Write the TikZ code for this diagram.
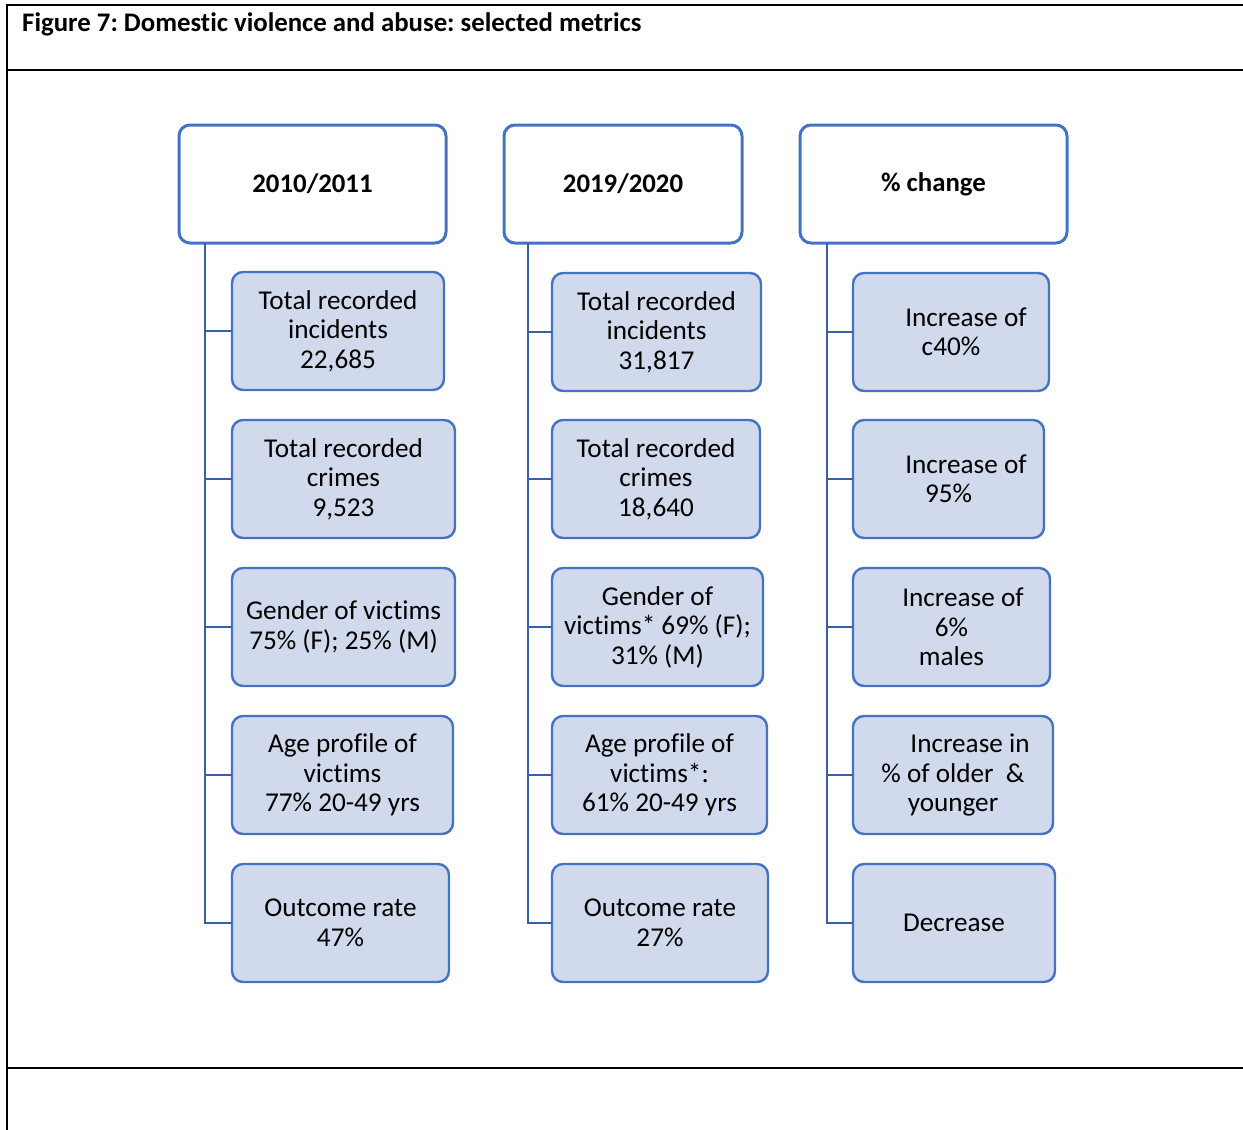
\documentclass[tikz,border=0pt]{standalone}
\usepackage{fontspec}
\setmainfont[Ligatures=NoCommon]{Carlito}
\usepackage{xcolor}
\usetikzlibrary{positioning}
\frenchspacing

\definecolor{boxblue}{HTML}{4472C4}
\definecolor{linkblue}{HTML}{3B5EA8}
\definecolor{boxfill}{HTML}{D1D9EC}

\tikzset{
  frame/.style={draw=black,line width=2pt},
  yearhead/.style={draw=boxblue,line width=3pt,fill=white,rounded corners=11pt,
    anchor=north west,minimum height=118pt,inner sep=0pt,outer sep=0pt,
    font=\fontsize{26.8}{29.5}\selectfont\bfseries},
  metric/.style={draw=boxblue,line width=2.4pt,fill=boxfill,rounded corners=11pt,
    anchor=north west,minimum height=118pt,inner sep=0pt,outer sep=0pt,align=center,
    font=\fontsize{27.2}{29.5}\selectfont},
  link/.style={draw=linkblue,line width=2.6pt}
}

\begin{document}
\begin{tikzpicture}[x=1pt,y=-1pt]
      \useasboundingbox (0,0) rectangle (1243,1130);
      % frame of the figure
      \draw[frame] (1243,5) -- (7,5) -- (7,1130);
      \draw[frame] (7,70) -- (1243,70);
      \draw[frame] (7,1068) -- (1243,1068);
      \node[anchor=west,inner sep=0pt,font=\fontsize{26.8}{29}\selectfont\bfseries] (title) at (22,24)
        {Figure 7: Domestic violence and abuse: selected metrics};

      % column heads
      \node[yearhead,minimum width=267pt] (y1) at (179,125) {2010/2011};
      \node[yearhead,minimum width=238pt] (y2) at (504,125) {2019/2020};
      \node[yearhead,minimum width=267pt] (pc) at (800,125) {\% change};

      % 2010/2011
      \node[metric,minimum width=212pt] (a1) at (232,272) {Total recorded\\incidents\\22,685};
      \node[metric,minimum width=223pt] (a2) at (232,420) {Total recorded\\crimes\\9,523};
      \node[metric,minimum width=223pt] (a3) at (232,568) {Gender of victims\\75\% (F); 25\% (M)};
      \node[metric,minimum width=221pt] (a4) at (232,716) {Age profile of\\victims\\77\% 20-49 yrs};
      \node[metric,minimum width=217pt] (a5) at (232,864) {Outcome rate\\47\%};

      % 2019/2020
      \node[metric,minimum width=209pt] (b1) at (552,273) {Total recorded\\incidents\\31,817};
      \node[metric,minimum width=208pt] (b2) at (552,420) {Total recorded\\crimes\\18,640};
      \node[metric,minimum width=211pt] (b3) at (552,568) {Gender of\\victims* 69\% (F);\\31\% (M)};
      \node[metric,minimum width=215pt] (b4) at (552,716) {Age profile of\\victims*:\\61\% 20-49 yrs};
      \node[metric,minimum width=216pt] (b5) at (552,864) {Outcome rate\\27\%};

      % % change
      \node[metric,minimum width=196pt] (c1) at (853,273) {\hspace*{30pt}Increase of\\c40\%};
      \node[metric,minimum width=191pt] (c2) at (853,420) {\hspace*{35pt}Increase of\\95\%};
      \node[metric,minimum width=197pt] (c3) at (853,568) {\hspace*{23pt}Increase of\\6\%\hspace*{13pt}\\males};
      \node[metric,minimum width=200pt] (c4) at (853,716) {\hspace*{34pt}Increase in\\\% of older~~\&\\younger};
      \node[metric,minimum width=202pt] (c5) at (853,864) {Decrease};

      % trunks
      \coordinate (t1) at (205,243);
      \coordinate (t2) at (528,243);
      \coordinate (t3) at (827,243);
      \draw[link] (t1) |- (a5.west);
      \draw[link] (t2) |- (b5.west);
      \draw[link] (t3) |- (c5.west);
      \foreach \i in {1,...,4} {
        \draw[link] (a\i.west) -- (a\i.west -| t1);
        \draw[link] (b\i.west) -- (b\i.west -| t2);
        \draw[link] (c\i.west) -- (c\i.west -| t3);
      }
    \end{tikzpicture}
\end{document}
